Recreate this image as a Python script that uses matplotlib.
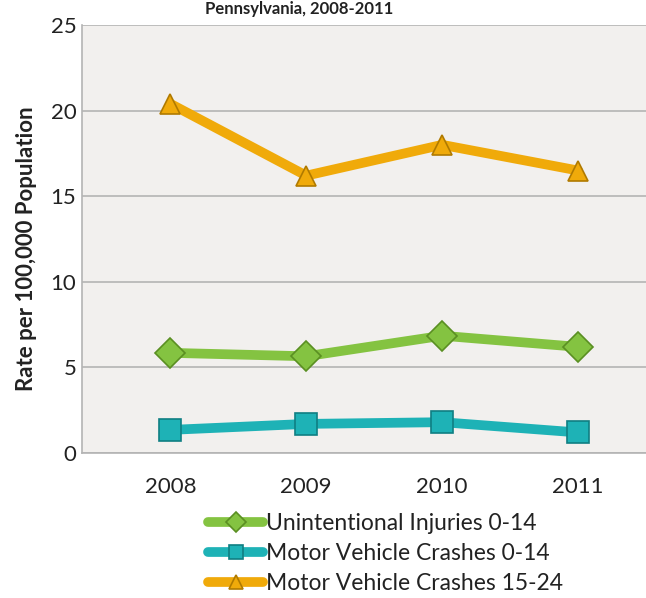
import numpy as np
import matplotlib.pyplot as plt

years = ["2008", "2009", "2010", "2011"]
unintentional_0_14 = [5.85, 5.65, 6.85, 6.2]
mvc_0_14 = [1.35, 1.7, 1.8, 1.2]
mvc_15_24 = [20.4, 16.2, 18.0, 16.5]
yticks = [0, 5, 10, 15, 20, 25]

plt.rcParams['font.family'] = ['Lato', 'DejaVu Sans']

fig = plt.figure(figsize=(6.46, 5.98), dpi=100)
ax = fig.add_axes([82 / 646, 1 - 453 / 598, 1 - 82 / 646, 428 / 598])
ax.set_facecolor('#f2f0ee')

x = np.arange(len(years))
series = [
    (unintentional_0_14, '#84c341', '#5a8f22', 'D', 15, "Unintentional Injuries 0-14"),
    (mvc_0_14, '#1eb2b6', '#0f7f83', 's', 16, "Motor Vehicle Crashes 0-14"),
    (mvc_15_24, '#f0aa0a', '#b07a00', '^', 15, "Motor Vehicle Crashes 15-24"),
]
for vals, col, edge, mk, ms, lab in series:
    ax.plot(x, vals, color=col, lw=7, marker=mk, markersize=ms,
            markerfacecolor=col, markeredgecolor=edge, markeredgewidth=1.2,
            label=lab, solid_capstyle='round', solid_joinstyle='round')

ax.set_xlim(-0.65, 3.5)
ax.set_ylim(0, 25)
ax.set_yticks(yticks)
ax.set_xticks(x)
ax.set_xticklabels(years)
ax.yaxis.grid(True, color='#b4b4b4', lw=1.2)
ax.set_axisbelow(True)
for s in ['top', 'right']:
    ax.spines[s].set_visible(False)
for s in ['left', 'bottom']:
    ax.spines[s].set_color('#b4b4b4')
    ax.spines[s].set_linewidth(1.2)
ax.tick_params(length=0, labelsize=16, colors='#222222')
ax.tick_params(axis='x', pad=17)
ax.tick_params(axis='y', pad=4)
ax.set_ylabel("Rate per 100,000 Population", fontsize=16, fontweight='bold',
              color='#222222')
ax.yaxis.set_label_coords(-45 / 564, 0.477)

fig.text(299 / 646, 1 - 1 / 598, "Pennsylvania, 2008-2011", ha='center',
         va='top', fontsize=12, fontweight='bold', color='#222222')

handles, labels = ax.get_legend_handles_labels()
leg = fig.legend(handles, labels, loc='upper left',
                 bbox_to_anchor=(197 / 646, 1 - 502 / 598), frameon=False,
                 fontsize=16.5, handlelength=2.4, handletextpad=0.1,
                 labelspacing=0.38, borderpad=0, markerscale=0.65)
for t in leg.get_texts():
    t.set_color('#222222')

fig.savefig("out.png", dpi=100)
